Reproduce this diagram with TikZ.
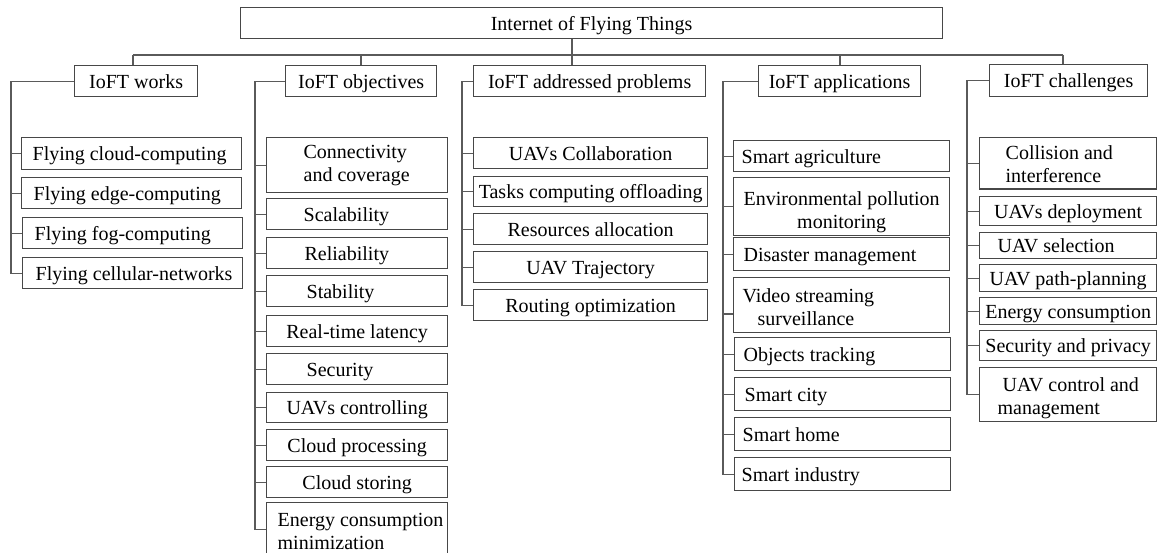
\documentclass[tikz,border=0pt]{standalone}
\usepackage{fontspec}
\setmainfont{Liberation Serif}
\newcommand\bigfnt{\fontsize{20pt}{23pt}\selectfont}
\newcommand\strt{\rule[-5pt]{0pt}{24pt}}
\newcommand\lbx[3]{\makebox[#1pt][l]{\hspace*{#2pt}#3\strt}}
\newcommand\lbm[3]{\makebox[#1pt][l]{\hspace*{#2pt}\begin{tabular}{@{}l@{}}#3\end{tabular}}}
\newcommand\cbm[1]{\begin{tabular}{@{}c@{}}#1\end{tabular}}
\newcommand\tp[1]{\rule{0pt}{#1pt}}
\definecolor{boxc}{HTML}{474747}
\definecolor{conc}{HTML}{5A5A5A}
\begin{document}
\begin{tikzpicture}[x=1pt,y=-1pt,
  box/.style={draw=boxc, line width=1.3pt, anchor=north west, inner sep=0pt, font=\bigfnt, text=black},
  conn/.style={draw=conc, line width=1.2pt}]
\useasboundingbox (0,0) rectangle (1157,553);
\clip (0,0) rectangle (1157,553);
\fill[white] (0,0) rectangle (1157,553);

% root
\node[box, minimum width=702pt, minimum height=31pt] (top) at (240,7) {Internet of Flying Things\strt};

% level 1
\node[box, minimum width=123pt, minimum height=31pt] (w) at (74,65) {IoFT works\strt};
\node[box, minimum width=151pt, minimum height=31pt] (o) at (285,65) {IoFT objectives\strt};
\node[box, minimum width=232pt, minimum height=31pt] (p) at (473,65) {IoFT addressed problems\strt};
\node[box, minimum width=162pt, minimum height=31pt] (a) at (758,65) {IoFT applications\strt};
\node[box, minimum width=158pt, minimum height=32pt] (c) at (989,64) {IoFT challenges\strt};

% works
\node[box, minimum width=220pt, minimum height=32pt] (w1) at (21,137) {\lbx{220}{11}{Flying cloud-computing}};
\node[box, minimum width=220pt, minimum height=31pt] (w2) at (21,177) {\lbx{220}{12}{Flying edge-computing}};
\node[box, minimum width=220pt, minimum height=31pt] (w3) at (22,217) {\lbx{220}{12}{Flying fog-computing}};
\node[box, minimum width=220pt, minimum height=31pt] (w4) at (22,257) {\lbx{220}{13}{Flying cellular-networks}};

% objectives
\node[box, minimum width=181pt, minimum height=55pt] (o1) at (266,137) {\lbm{181}{37}{Connectivity\\and coverage}};
\node[box, minimum width=181pt, minimum height=31pt] (o2) at (266,198) {\lbx{181}{37}{Scalability}};
\node[box, minimum width=181pt, minimum height=31pt] (o3) at (266,237) {\lbx{181}{38}{Reliability}};
\node[box, minimum width=181pt, minimum height=31pt] (o4) at (266,275) {\lbx{181}{40}{Stability}};
\node[box, minimum width=181pt, minimum height=31pt] (o5) at (266,315) {Real-time latency\strt};
\node[box, minimum width=181pt, minimum height=31pt] (o6) at (266,353) {\lbx{181}{40}{Security}};
\node[box, minimum width=181pt, minimum height=30pt] (o7) at (266,392) {UAVs controlling\strt};
\node[box, minimum width=181pt, minimum height=31pt] (o8) at (266,429) {Cloud processing\strt};
\node[box, minimum width=181pt, minimum height=31pt] (o9) at (266,466) {Cloud storing\strt};
\node[box, minimum width=181pt, minimum height=54pt] (o10) at (266,502) {\lbm{181}{11}{\tp{23}Energy consumption\\minimization}};

% addressed problems
\node[box, minimum width=234pt, minimum height=31pt] (p1) at (473,137) {UAVs Collaboration\strt};
\node[box, minimum width=234pt, minimum height=30pt] (p2) at (473,176) {Tasks computing offloading\strt};
\node[box, minimum width=234pt, minimum height=31pt] (p3) at (473,213) {Resources allocation\strt};
\node[box, minimum width=234pt, minimum height=31pt] (p4) at (473,251) {UAV Trajectory\strt};
\node[box, minimum width=234pt, minimum height=31pt] (p5) at (473,289) {Routing optimization\strt};

% applications
\node[box, minimum width=216pt, minimum height=31pt] (a1) at (733,140) {\lbx{216}{8}{Smart agriculture}};
\node[box, minimum width=216pt, minimum height=54pt] (a2) at (733,177) {\cbm{\tp{28}Environmental pollution\\monitoring}};
\node[box, minimum width=216pt, minimum height=33pt] (a3) at (733,237) {\lbx{216}{10}{Disaster management}};
\node[box, minimum width=216pt, minimum height=53pt] (a4) at (733,277) {\lbm{216}{9}{\tp{25}Video streaming\\\hspace*{15pt}surveillance}};
\node[box, minimum width=216pt, minimum height=33pt] (a5) at (734,337) {\lbx{216}{9}{Objects tracking}};
\node[box, minimum width=216pt, minimum height=33pt] (a6) at (734,377) {\lbx{216}{10}{Smart city}};
\node[box, minimum width=216pt, minimum height=33pt] (a7) at (734,417) {\lbx{216}{8}{Smart home}};
\node[box, minimum width=216pt, minimum height=33pt] (a8) at (734,457) {\lbx{216}{7}{Smart industry}};

% challenges
\node[box, minimum width=177pt, minimum height=51pt] (c1) at (979,137) {\lbm{177}{26}{\tp{21.5}Collision and\\interference}};
\node[box, minimum width=177pt, minimum height=29pt] (c2) at (979,196) {UAVs deployment\strt};
\node[box, minimum width=177pt, minimum height=26pt] (c3) at (979,232) {\lbx{177}{18}{UAV selection}};
\node[box, minimum width=177pt, minimum height=27pt] (c4) at (979,264) {UAV path-planning\strt};
\node[box, minimum width=177pt, minimum height=27pt] (c5) at (979,297) {Energy consumption\strt};
\node[box, minimum width=177pt, minimum height=30pt] (c6) at (979,330) {Security and privacy\strt};
\node[box, minimum width=177pt, minimum height=51pt] (c7) at (979,367) {\lbm{177}{18}{\tp{24}\hspace*{5pt}UAV control and\\management}};

% top bus
\coordinate (b1) at (133,55);
\coordinate (b2) at (361,55);
\coordinate (b3) at (572,55);
\coordinate (b4) at (840,55);
\coordinate (b5) at (1063,55);
\draw[conn] (b1) -- (b5);
\draw[conn] (top.south -| b3) -- (b3 |- p.north);
\draw[conn] (b1) -- (b1 |- w.north);
\draw[conn] (b2) -- (b2 |- o.north);
\draw[conn] (b4) -- (b4 |- a.north);
\draw[conn] (b5) -- (b5 |- c.north);

% spines
\coordinate (sw) at (11,0);
\coordinate (so) at (255,0);
\coordinate (sp) at (462,0);
\coordinate (sa) at (723,0);
\coordinate (sc) at (967,0);

\draw[conn] (w.west) -- (w.west -| sw) |- (w4.west);
\foreach \n in {w1,w2,w3} \draw[conn] (\n.west -| sw) -- (\n.west);

\draw[conn] (o.west) -- (o.west -| so) |- (o10.west);
\foreach \n in {o1,o2,o3,o4,o5,o6,o7,o8,o9} \draw[conn] (\n.west -| so) -- (\n.west);

\draw[conn] (p.west) -- (p.west -| sp) |- (p5.west);
\foreach \n in {p1,p2,p3,p4} \draw[conn] (\n.west -| sp) -- (\n.west);

\draw[conn] (a.west) -- (a.west -| sa) |- (a8.west);
\foreach \n in {a1,a2,a3,a5,a6,a7} \draw[conn] (\n.west -| sa) -- (\n.west);
\draw[conn] ([yshift=-9pt]a4.west -| sa) -- ([yshift=-9pt]a4.west);

\draw[conn] (c.west) -- (c.west -| sc) |- (c7.west);
\foreach \n in {c1,c2,c3,c4,c5,c6} \draw[conn] (\n.west -| sc) -- (\n.west);
\end{tikzpicture}
\end{document}
